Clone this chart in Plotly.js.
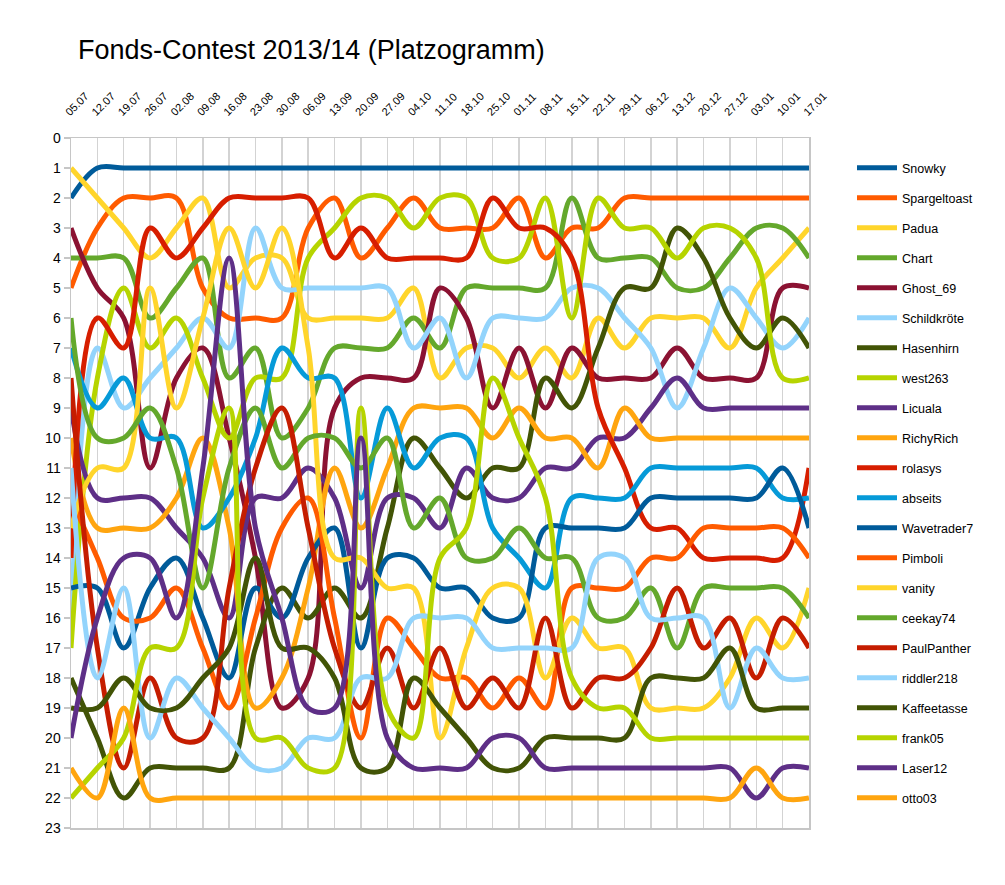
<!DOCTYPE html>
<html>
<head>
<meta charset="utf-8">
<script src="https://cdn.plot.ly/plotly-3.0.1.min.js"></script>
<style>
  html, body { margin: 0; padding: 0; background: #ffffff; }
  #chart { width: 1005px; height: 885px; }
</style>
</head>
<body>
<div id="chart"></div>
<script>
// Contest dates (weekly standings)
const dates = ['05.07','12.07','19.07','26.07','02.08','09.08','16.08','23.08','30.08','06.09',
               '13.09','20.09','27.09','04.10','11.10','18.10','25.10','01.11','08.11','15.11',
               '22.11','29.11','06.12','13.12','20.12','27.12','03.01','10.01','17.01'];

// Participants in order of the final standings
const players = ['Snowky','Spargeltoast','Padua','Chart','Ghost_69','Schildkröte','Hasenhirn',
                 'west263','Licuala','RichyRich','rolasys','abseits','Wavetrader7','Pimboli',
                 'vanity','ceekay74','PaulPanther','riddler218','Kaffeetasse','frank05','Laser12','otto03'];

// Rank of each participant per date
const Snowky       = [2,1,1,1,1,1,1,1,1,1,1,1,1,1,1,1,1,1,1,1,1,1,1,1,1,1,1,1,1];
const Spargeltoast = [5,3,2,2,2,5,6,6,6,3,2,4,3,2,3,3,3,2,4,3,3,2,2,2,2,2,2,2,2];
const Padua        = [1,2,3,4,3,2,5,4,4,6,6,6,6,5,8,7,7,8,7,8,6,7,6,6,6,7,5,4,3];
const Chart        = [4,4,4,6,5,4,8,7,10,9,7,7,7,6,7,5,5,5,5,2,4,4,4,5,5,4,3,3,4];
const Ghost_69     = [3,5,6,11,8,7,10,14,19,18,9,8,8,8,5,6,9,7,9,7,8,8,8,7,8,8,8,5,5];
const Schildkroete = [16,7,9,8,7,6,7,3,5,5,5,5,5,7,6,8,6,6,6,5,5,6,7,9,7,5,6,7,6];
const Hasenhirn    = [18,20,22,21,21,21,21,17,15,16,15,16,13,10,11,12,11,11,8,9,7,5,5,3,4,6,7,6,7];
const west263      = [17,8,5,7,6,8,10,8,8,4,3,2,2,3,2,2,4,4,2,6,2,3,3,4,3,3,4,8,8];
const Licuala      = [9,12,12,12,13,14,16,12,12,11,12,15,12,12,13,11,12,12,11,11,10,10,9,8,9,9,9,9,9];
const RichyRich    = [10,13,13,13,12,10,13,19,18,15,11,13,11,9,9,9,10,9,10,10,11,9,10,10,10,10,10,10,10];
const rolasys      = [14,6,7,3,4,3,2,2,2,2,4,3,4,4,4,4,2,3,3,4,9,11,13,13,14,14,14,14,11];
const abseits      = [7,9,8,10,10,13,12,10,7,8,8,12,9,11,10,10,13,14,15,12,12,12,11,11,11,11,11,12,12];
const Wavetrader7  = [15,15,17,15,14,16,18,15,16,14,13,17,14,14,15,15,16,16,13,13,13,13,12,12,12,12,12,11,13];
const Pimboli      = [12,14,16,16,15,17,19,16,13,12,16,20,16,17,18,18,19,18,19,15,15,15,14,14,13,13,13,13,14];
const vanity       = [13,11,11,5,9,6,3,5,3,7,14,14,15,15,20,17,15,15,18,16,17,17,19,19,19,18,16,17,15];
const ceekay74     = [6,10,10,9,11,15,11,9,11,10,10,11,10,13,12,14,14,13,14,14,16,16,15,17,15,15,15,15,16];
const PaulPanther  = [8,17,21,18,20,20,15,11,9,13,17,19,17,19,17,19,18,19,16,19,18,18,17,15,17,16,18,16,17];
const riddler218   = [11,18,15,20,18,19,20,21,21,20,20,18,18,16,16,16,17,17,17,17,14,14,16,16,16,19,17,18,18];
const Kaffeetasse  = [19,19,18,19,19,18,17,14,17,17,18,21,21,18,19,20,21,21,20,20,20,20,18,18,18,17,19,19,19];
const frank05      = [22,21,20,17,17,12,9,20,20,21,21,9,19,20,14,13,8,10,12,18,19,19,20,20,20,20,20,20,20];
const Laser12      = [20,16,14,14,16,11,4,13,16,19,19,10,20,21,21,21,20,20,21,21,21,21,21,21,21,21,22,21,21];
const otto03       = [21,22,19,22,22,22,22,22,22,22,22,22,22,22,22,22,22,22,22,22,22,22,22,22,22,22,21,22,22];

const ranks = [Snowky, Spargeltoast, Padua, Chart, Ghost_69, Schildkroete, Hasenhirn, west263,
               Licuala, RichyRich, rolasys, abseits, Wavetrader7, Pimboli, vanity, ceekay74,
               PaulPanther, riddler218, Kaffeetasse, frank05, Laser12, otto03];

// Office-style series palette, cycling after twelve entries
const colors = ['#005b9a','#ff5b00','#ffd52b','#64a82c','#8b1232','#93d4fc','#425406','#b6d400',
                '#5e2f87','#ffa50f','#d71e00','#069ad8','#005b9a','#ff5b00','#ffd52b','#64a82c',
                '#c51d00','#93d4fc','#425406','#b6d400','#5e2f87','#ffa50f'];

const idx = dates.map((d, i) => i);
const rankTicks = Array.from({length: 24}, (v, i) => i);

const traces = players.map((name, k) => ({
  type: 'scatter',
  mode: 'lines',
  name: name,
  legendgroup: name,
  x: idx,
  y: ranks[k],
  line: { shape: 'spline', smoothing: 1, width: 5, color: colors[k] },
  hoverinfo: 'name+y'
}));

const layout = {
  width: 1005,
  height: 885,
  paper_bgcolor: '#ffffff',
  plot_bgcolor: '#ffffff',
  margin: { l: 71, r: 196, t: 138, b: 57 },
  font: { family: '"Liberation Sans", Arial, sans-serif', color: '#000000' },
  title: {
    text: 'Fonds-Contest 2013/14 (Platzogramm)',
    font: { size: 27, family: '"Liberation Sans", Arial, sans-serif', color: '#000000' },
    xref: 'container', yref: 'container',
    x: 78 / 1005, xanchor: 'left',
    y: 1 - 50 / 885, yanchor: 'middle'
  },
  xaxis: {
    side: 'top',
    range: [0, 28],
    tickmode: 'array',
    tickvals: idx,
    ticktext: dates,
    tickangle: -45,
    tickfont: { size: 11 },
    ticklabelstandoff: 14,
    ticklabelshift: -5,
    ticks: '',
    showgrid: true,
    gridcolor: '#d3d3d3',
    gridwidth: 1.5,
    zeroline: false,
    showline: true,
    linecolor: '#c6c6c6',
    linewidth: 1.5,
    mirror: true,
    fixedrange: true
  },
  yaxis: {
    range: [23, 0],
    tickmode: 'array',
    tickvals: rankTicks,
    ticks: 'outside',
    ticklen: 6,
    tickcolor: '#c6c6c6',
    tickwidth: 1.5,
    tickfont: { size: 14 },
    showgrid: false,
    zeroline: false,
    showline: true,
    linecolor: '#c6c6c6',
    linewidth: 1.5,
    mirror: true,
    fixedrange: true
  },
  legend: {
    xref: 'container', yref: 'container',
    x: 852 / 1005, xanchor: 'left',
    y: 1 - 153 / 885, yanchor: 'top',
    font: { size: 12.5 },
    itemwidth: 40,
    tracegroupgap: 10.75,
    maxheight: 720,
    bgcolor: 'rgba(0,0,0,0)'
  },
  showlegend: true
};

Plotly.newPlot('chart', traces, layout, { displayModeBar: false, staticPlot: true });
</script>
</body>
</html>
